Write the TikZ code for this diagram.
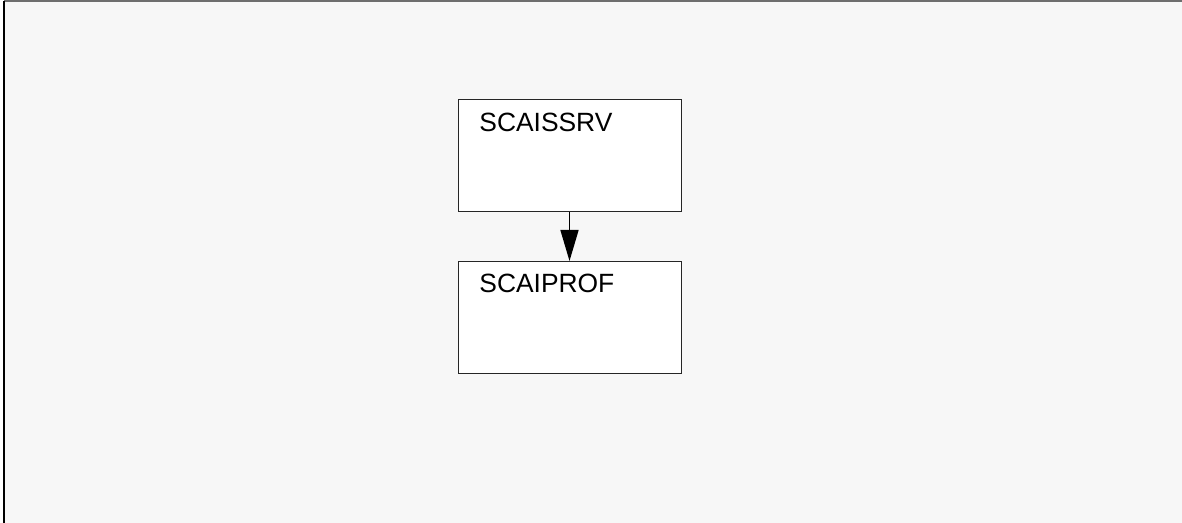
\documentclass[tikz,border=0pt]{standalone}
\usepackage{fontspec}
\setmainfont{Liberation Sans}
\usetikzlibrary{arrows.meta}
\definecolor{pagebg}{HTML}{F7F7F7}
\definecolor{edgegray}{HTML}{6E6E6E}

\begin{document}
\begin{tikzpicture}[x=0.5pt,y=-0.5pt,>={Triangle[width=9pt,length=15.5pt]},font=\fontsize{13.2pt}{15pt}\selectfont]
 \tikzset{modbox/.style={draw=black!85,line width=0.5pt,fill=white,minimum width=111.5pt,minimum height=56pt,inner sep=0pt},
   modname/.style={anchor=base west,inner sep=0pt}}
 \useasboundingbox (0,0) rectangle (1182,523);
 \fill[pagebg] (4,1) rectangle (1182,523);
 \draw[edgegray,line width=1pt] (4,1.5) -- (1182,1.5);
 \draw[black,line width=1pt] (4,1) -- (4,523);
 % modules
 \node[modbox] (srv) at (569.5,156) {};
 \node[modbox] (prof) at (569.5,317.5) {};
 \node[modname] (srvname) at (479,132) {SCAISSRV};
 \node[modname] (profname) at (479,293) {SCAIPROF};
 % call
 \draw[->,line width=0.75pt] (srv) -- (prof);
\end{tikzpicture}
\end{document}
